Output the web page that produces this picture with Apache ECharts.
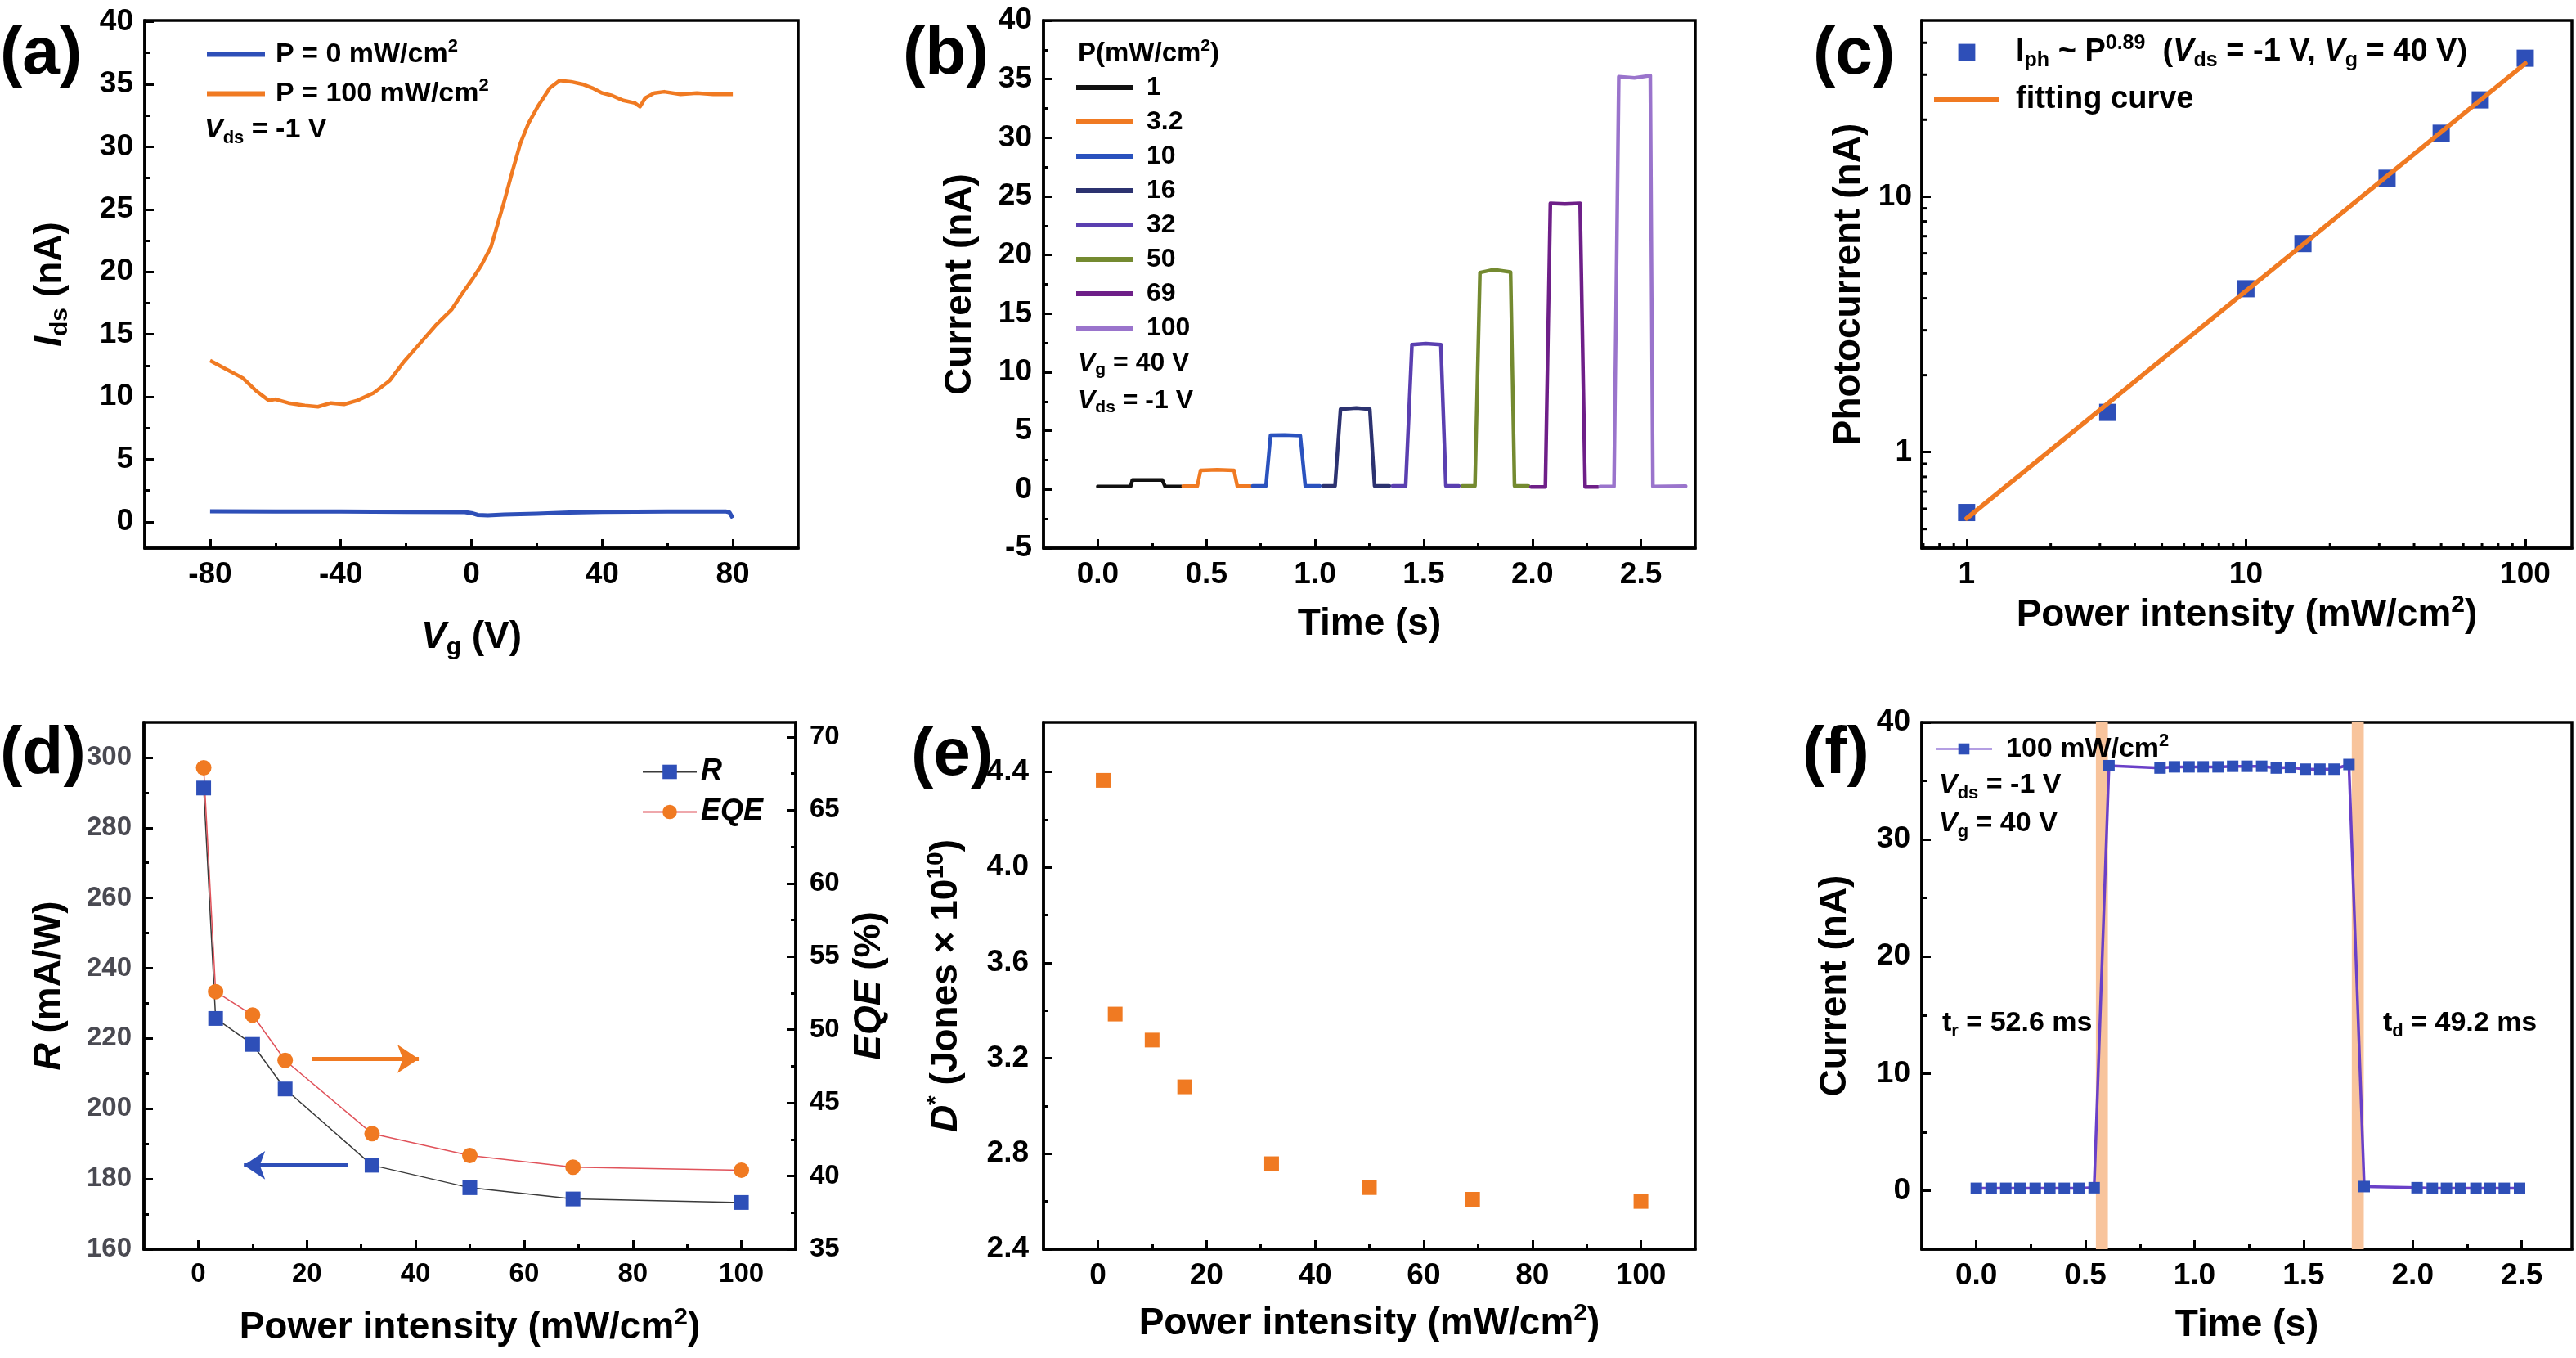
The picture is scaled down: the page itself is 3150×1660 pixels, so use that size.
<!DOCTYPE html>
<html>
<head>
<meta charset="utf-8">
<script src="https://cdn.jsdelivr.net/npm/echarts@6.0.0/dist/echarts.min.js"></script>
<style>
html,body{margin:0;padding:0;background:#fff;}
#chart{width:3150px;height:1660px;}
</style>
</head>
<body>
<div id="chart"></div>
<script>
// ---------------- DATA ----------------
// (a) transfer curves
const aVg0 = [-80,-60,-40,-20,-2,0,2,5,10,20,30,40,60,78,79,80];
const aI0  = [0.85,0.83,0.82,0.80,0.78,0.70,0.55,0.52,0.58,0.65,0.75,0.80,0.82,0.82,0.75,0.30];
const aVg100 = [-80,-75,-70,-66,-62,-60,-56,-51,-47,-43,-39,-35,-30,-25,-21,-16,-11,-6,-3,0,3,6,8,10,12.5,15,17.5,20.5,24,27,30.5,34,37,40,43,46.5,50,51.6,53.2,56,59,64,69,74,80];
const aI100  = [12.9,12.2,11.5,10.5,9.7,9.8,9.5,9.3,9.2,9.5,9.4,9.7,10.3,11.3,12.7,14.2,15.7,17.0,18.2,19.3,20.5,22.0,23.8,25.6,28.0,30.3,31.9,33.3,34.7,35.3,35.2,35.0,34.7,34.3,34.1,33.7,33.5,33.2,33.9,34.3,34.4,34.2,34.3,34.2,34.2];

// (b) transient response per power
const bPowers = ['1','3.2','10','16','32','50','69','100'];
const bColors = ['#111111','#f07a22','#2a52be','#2c3270','#5a3fb0','#748a30','#6e1f88','#9a74cc'];
const bTime = [
  [0.000,0.151,0.159,0.297,0.310,0.385],
  [0.393,0.458,0.473,0.550,0.627,0.642,0.703],
  [0.713,0.774,0.795,0.860,0.932,0.955,1.022],
  [1.037,1.092,1.117,1.190,1.252,1.274,1.342],
  [1.357,1.417,1.446,1.510,1.579,1.602,1.662],
  [1.677,1.736,1.759,1.820,1.900,1.918,1.982],
  [1.994,2.060,2.083,2.150,2.220,2.243,2.302],
  [2.312,2.376,2.398,2.470,2.543,2.555,2.706]
];
const bCurr = [
  [0.25,0.25,0.80,0.80,0.25,0.25],
  [0.28,0.28,1.62,1.68,1.62,0.28,0.28],
  [0.30,0.30,4.62,4.64,4.60,0.30,0.30],
  [0.30,0.30,6.85,6.95,6.85,0.30,0.30],
  [0.30,0.30,12.35,12.45,12.35,0.30,0.30],
  [0.30,0.30,18.50,18.75,18.55,0.30,0.30],
  [0.22,0.22,24.40,24.35,24.40,0.22,0.22],
  [0.25,0.25,35.20,35.10,35.30,0.25,0.28]
];

// (c) photocurrent vs power (log-log)
const cP = [1,3.2,10,16,32,50,69,100];
const cI = [0.58,1.43,4.36,6.55,11.8,17.7,23.9,34.8];
const cFitP = [1,100];
const cFitI = [0.55,33.2];
const cMinorX = [0.7,0.8,0.9,2,3,4,5,6,7,8,9,20,30,40,50,60,70,80,90];
const cMinorY = [0.5,0.6,0.7,0.8,0.9,2,3,4,5,6,7,8,9,20,30,40];

// (d) responsivity & EQE, (e) detectivity
const dP = [1,3.2,10,16,32,50,69,100];
const dR = [291.3,225.7,218.3,205.6,183.9,177.5,174.3,173.3];
const dEQE = [67.9,52.6,51.0,47.9,42.9,41.4,40.6,40.4];
const eD = [4.364,3.385,3.276,3.080,2.758,2.658,2.609,2.600];

// (f) single cycle response
const fT = [0.000,0.068,0.135,0.200,0.270,0.337,0.403,0.470,0.540,0.608,0.842,0.908,0.975,1.040,1.108,1.175,1.240,1.308,1.375,1.440,1.508,1.575,1.640,1.708,1.778,2.020,2.090,2.155,2.220,2.290,2.355,2.420,2.490];
const fI = [0.20,0.20,0.20,0.20,0.20,0.20,0.20,0.20,0.25,36.3,36.1,36.2,36.2,36.2,36.2,36.25,36.25,36.25,36.1,36.15,36.0,36.0,36.0,36.4,0.35,0.25,0.20,0.20,0.20,0.20,0.20,0.20,0.20];
const fBands = [[0.548,0.603],[1.721,1.776]];

// tick values
const aXMaj = [-80,-40,0,40,80], aXMin = [-60,-20,20,60];
const aYMaj = [0,5,10,15,20,25,30,35,40], aYMin = [2.5,7.5,12.5,17.5,22.5,27.5,32.5,37.5];
const tXMaj = [0,0.5,1,1.5,2,2.5], tXMin = [0.25,0.75,1.25,1.75,2.25];
const bYMaj = [-5,0,5,10,15,20,25,30,35,40], bYMin = [-2.5,2.5,7.5,12.5,17.5,22.5,27.5,32.5,37.5];
const pXMaj = [0,20,40,60,80,100], pXMin = [10,30,50,70,90];
const dYLMaj = [160,180,200,220,240,260,280,300], dYLMin = [170,190,210,230,250,270,290];
const dYRMaj = [35,40,45,50,55,60,65,70], dYRMin = [37.5,42.5,47.5,52.5,57.5,62.5,67.5];
const eYMaj = [2.4,2.8,3.2,3.6,4.0,4.4], eYMin = [2.6,3.0,3.4,3.8,4.2];
const fYMaj = [0,10,20,30,40], fYMin = [5,15,25,35];

// ---------------- STYLE HELPERS ----------------
const FONT = "'Liberation Sans', Arial, Helvetica, sans-serif";
const BLUE = '#2e4fb8', ORANGE = '#f07a22';
const zip = (a,b) => a.map((v,i)=>[v,b[i]]);

function rich(F){
  const s = Math.round(F*0.65);
  return {
    it:{fontSize:F, fontStyle:'italic', fontWeight:'bold', fontFamily:FONT, lineHeight:Math.round(F*1.2)},
    sb:{fontSize:s, fontWeight:'bold', fontFamily:FONT, verticalAlign:'bottom', lineHeight:s},
    sp:{fontSize:s, fontWeight:'bold', fontFamily:FONT, verticalAlign:'top', lineHeight:s}
  };
}

const xAxes = [], yAxes = [];
function linAxes(list, pos, grid, min, max, majors, minors, o){
  const nfs = o.nfs || 46;
  list.push({
    type:'value', gridIndex:grid, min:min, max:max, position:pos,
    axisLine:{show:true, onZero:false, lineStyle:{color:'#000', width:3.5}},
    axisTick:{show:true, inside:true, length:11, customValues:majors, lineStyle:{color:'#000', width:3}},
    minorTick:{show:false}, splitLine:{show:false},
    axisLabel:{show:true, customValues:majors, margin:o.margin||14, fontSize:o.fs||37, fontWeight:'bold',
      fontFamily:FONT, color:o.color||'#000', formatter:o.fmt||(v=>String(v)), hideOverlap:false},
    name:o.name, nameLocation:'middle', nameGap:o.gap, nameMoveOverlap:false,
    nameTextStyle:{fontSize:nfs, fontWeight:'bold', fontFamily:FONT, color:'#000', lineHeight:Math.round(nfs*1.2), rich:rich(nfs)}
  });
  const idx = list.length-1;
  list.push({
    type:'value', gridIndex:grid, min:min, max:max, position:pos, silent:true,
    axisLine:{show:false, onZero:false}, axisLabel:{show:false}, splitLine:{show:false}, minorTick:{show:false},
    axisTick:{show:true, inside:true, length:6, customValues:minors, lineStyle:{color:'#000', width:3}}
  });
  return idx;
}
function logAxis(list, pos, grid, min, max, o){
  const nfs = 46;
  list.push({
    type:'log', logBase:10, gridIndex:grid, min:min, max:max, position:pos,
    axisLine:{show:true, onZero:false, lineStyle:{color:'#000', width:3.5}},
    axisTick:{show:true, inside:true, length:11, lineStyle:{color:'#000', width:3}},
    minorTick:{show:false}, splitLine:{show:false},
    axisLabel:{margin:o.margin||14, fontSize:37, fontWeight:'bold', fontFamily:FONT, color:'#000',
      showMinLabel:false, showMaxLabel:false,
      formatter:v=>{const r=Math.log10(v); return Math.abs(r-Math.round(r))<1e-6 ? String(Math.round(v)) : '';}},
    name:o.name, nameLocation:'middle', nameGap:o.gap, nameMoveOverlap:false,
    nameTextStyle:{fontSize:nfs, fontWeight:'bold', fontFamily:FONT, color:'#000', lineHeight:Math.round(nfs*1.2), rich:rich(nfs)}
  });
  return list.length-1;
}

// ---------------- GRIDS ----------------
const gridBox = [
  {left:177, top:25, width:799, height:645},
  {left:1276, top:25, width:797, height:645},
  {left:2350, top:25, width:795, height:645},
  {left:176, top:883, width:797, height:644},
  {left:1276, top:883, width:797, height:644},
  {left:2350, top:883, width:795, height:644}
];
const grids = gridBox.map(g => Object.assign({show:true, borderColor:'#000', borderWidth:3.5, backgroundColor:'transparent', containLabel:false, outerBoundsMode:'none'}, g));

// ---------------- AXES ----------------
const xA = linAxes(xAxes,'bottom',0,-100,100,aXMaj,aXMin,{name:'{it|V}{sb|g} (V)', gap:82});
const yA = linAxes(yAxes,'left',0,-2.1,40.1,aYMaj,aYMin,{name:'{it|I}{sb|ds} (nA)', gap:88});
const xB = linAxes(xAxes,'bottom',1,-0.25,2.75,tXMaj,tXMin,{name:'Time (s)', gap:66, fmt:v=>v.toFixed(1)});
const yB = linAxes(yAxes,'left',1,-5,40,bYMaj,bYMin,{name:'Current (nA)', gap:74});
const xC = logAxis(xAxes,'bottom',2,0.691,146.9,{name:'Power intensity (mW/cm{sp|2})', gap:55});
const yC = logAxis(yAxes,'left',2,0.421,48.9,{name:'Photocurrent (nA)', gap:61, margin:12});
const xD = linAxes(xAxes,'bottom',3,-10,110,pXMaj,pXMin,{name:'Power intensity (mW/cm{sp|2})', gap:69, fs:33});
const yDL = linAxes(yAxes,'left',3,160,310,dYLMaj,dYLMin,{name:'{it|R} (mA/W)', gap:88, fs:33, color:'#4a4a52', margin:15});
const yDR = linAxes(yAxes,'right',3,35,71,dYRMaj,dYRMin,{name:'{it|EQE} (%)', gap:63, fs:33, margin:17});
const xE = linAxes(xAxes,'bottom',4,-10,110,pXMaj,pXMin,{name:'Power intensity (mW/cm{sp|2})', gap:64});
const yE = linAxes(yAxes,'left',4,2.4,4.607,eYMaj,eYMin,{name:'{it|D}{sp|*} (Jones × 10{sp|10})', gap:91, margin:18, fmt:v=>v.toFixed(1)});
const xF = linAxes(xAxes,'bottom',5,-0.25,2.73,tXMaj,tXMin,{name:'Time (s)', gap:66, fmt:v=>v.toFixed(1)});
const yF = linAxes(yAxes,'left',5,-5,40,fYMaj,fYMin,{name:'Current (nA)', gap:78});

// ---------------- SERIES ----------------
const series = [];
series.push({name:'P0', type:'line', xAxisIndex:xA, yAxisIndex:yA, data:zip(aVg0,aI0), symbol:'none',
  lineStyle:{color:BLUE, width:5, join:'round'}, itemStyle:{color:BLUE}});
series.push({name:'P100', type:'line', xAxisIndex:xA, yAxisIndex:yA, data:zip(aVg100,aI100), symbol:'none',
  lineStyle:{color:ORANGE, width:4.5, join:'round'}, itemStyle:{color:ORANGE}});

bPowers.forEach((p,k) => {
  series.push({name:p, type:'line', xAxisIndex:xB, yAxisIndex:yB, data:zip(bTime[k],bCurr[k]), symbol:'none',
    lineStyle:{color:bColors[k], width:4.5, join:'round', cap:'round'}, itemStyle:{color:bColors[k]}});
});

series.push({name:'Iph', type:'line', xAxisIndex:xC, yAxisIndex:yC, data:zip(cP,cI), symbol:'rect', symbolSize:21,
  lineStyle:{width:0, opacity:0}, itemStyle:{color:BLUE, opacity:1}, z:2});
series.push({name:'fit', type:'line', xAxisIndex:xC, yAxisIndex:yC, data:zip(cFitP,cFitI), symbol:'none',
  lineStyle:{color:ORANGE, width:5.5, cap:'round'}, itemStyle:{color:ORANGE}, z:3});
series.push({type:'custom', xAxisIndex:xC, yAxisIndex:yC, silent:true, clip:false, z:5, data:cMinorX.map(v=>[v,1]),
  renderItem:(params, api) => { const cs = params.coordSys; const x = api.coord([api.value(0), api.value(1)])[0]; const yb = cs.y + cs.height;
    return {type:'line', shape:{x1:x, y1:yb, x2:x, y2:yb-6}, style:{stroke:'#000', lineWidth:3}}; }});
series.push({type:'custom', xAxisIndex:xC, yAxisIndex:yC, silent:true, clip:false, z:5, data:cMinorY.map(v=>[1,v]),
  renderItem:(params, api) => { const cs = params.coordSys; const y = api.coord([api.value(0), api.value(1)])[1];
    return {type:'line', shape:{x1:cs.x, y1:y, x2:cs.x+6, y2:y}, style:{stroke:'#000', lineWidth:3}}; }});

series.push({name:'R', type:'line', xAxisIndex:xD, yAxisIndex:yDL, data:zip(dP,dR), symbol:'rect', symbolSize:18,
  lineStyle:{color:'#3a3a3a', width:1.5}, itemStyle:{color:BLUE},
  markLine:{silent:true, symbol:['none','arrow'], symbolSize:26, label:{show:false},
    lineStyle:{color:BLUE, width:5, type:'solid'}, itemStyle:{color:BLUE}, emphasis:{disabled:true},
    data:[[{coord:[27.6,183.9]},{coord:[8.4,183.9]}]]}});
series.push({name:'EQE', type:'line', xAxisIndex:xD, yAxisIndex:yDR, data:zip(dP,dEQE), symbol:'circle', symbolSize:19,
  lineStyle:{color:'#e0525a', width:1.5}, itemStyle:{color:ORANGE},
  markLine:{silent:true, symbol:['none','arrow'], symbolSize:26, label:{show:false},
    lineStyle:{color:ORANGE, width:5, type:'solid'}, itemStyle:{color:ORANGE}, emphasis:{disabled:true},
    data:[[{coord:[21,48]},{coord:[40.6,48]}]]}});

series.push({name:'Dstar', type:'scatter', xAxisIndex:xE, yAxisIndex:yE, data:zip(dP,eD), symbol:'rect', symbolSize:18,
  itemStyle:{color:ORANGE, opacity:1}});

series.push({name:'F100', type:'line', xAxisIndex:xF, yAxisIndex:yF, data:zip(fT,fI), symbol:'rect', symbolSize:14,
  lineStyle:{color:'#6a40c8', width:3.5}, itemStyle:{color:BLUE},
  markArea:{silent:true, itemStyle:{color:'#f8c49c', opacity:1},
    data:fBands.map(b=>[{xAxis:b[0]},{xAxis:b[1]}])}});

// ---------------- LEGENDS ----------------
const LEG = {
  P0:'P = 0 mW/cm{sp|2}', P100:'P = 100 mW/cm{sp|2}',
  Iph:'I{sb|ph} ~ P{sp|0.89}  ({it|V}{sb|ds} = -1 V, {it|V}{sb|g} = 40 V)', fit:'fitting curve',
  R:'{it|R}', EQE:'{it|EQE}', F100:'100 mW/cm{sp|2}'
};
function legTS(F, padL, italic){
  return {fontSize:F, fontWeight:'bold', fontFamily:FONT, color:'#000', fontStyle:italic?'italic':'normal',
    lineHeight:Math.round(F*1.2), padding:[0,0,0,padL], rich:rich(F)};
}
const legFmt = n => (LEG[n] !== undefined ? LEG[n] : n);
const legends = [
  {left:253, top:46, orient:'vertical', padding:0, itemWidth:71, itemHeight:6, itemGap:7, selectedMode:false,
   icon:'path://M0,0H71V6H0Z', data:['P0','P100'], formatter:legFmt, textStyle:legTS(34,8)},
  {left:1316, top:88, orient:'vertical', padding:0, itemWidth:69, itemHeight:6, itemGap:4, selectedMode:false,
   icon:'path://M0,0H69V6H0Z', data:bPowers, formatter:legFmt, textStyle:legTS(32,12)},
  {left:2365, top:41, orient:'vertical', padding:0, itemWidth:80, itemHeight:26, itemGap:12, selectedMode:false, symbolKeepAspect:true,
   data:[{name:'Iph'},{name:'fit', icon:'path://M0,0H80V6H0Z'}], formatter:legFmt, textStyle:legTS(38,15)},
  {left:785, top:922, orient:'vertical', padding:0, itemWidth:66, itemHeight:22, itemGap:6, selectedMode:false,
   data:['R','EQE'], formatter:legFmt, textStyle:legTS(36,0)},
  {left:2366, top:895, orient:'vertical', padding:0, itemWidth:69, itemHeight:17, itemGap:6, selectedMode:false,
   data:['F100'], formatter:legFmt, textStyle:legTS(34,12)}
];

// ---------------- TEXT ANNOTATIONS ----------------
function T(x, y, text, fs){
  return {type:'text', x:x, y:y, silent:true, z:100,
    style:{text:text, fontSize:fs, fontWeight:'bold', fontFamily:FONT, fill:'#000', align:'left',
      verticalAlign:'middle', lineHeight:Math.round(fs*1.2), rich:rich(fs)}};
}
const graphics = [
  T(0,67,'(a)',82), T(1104,67,'(b)',82), T(2217,67,'(c)',82),
  T(0,922,'(d)',82), T(1114,924,'(e)',82), T(2204,922,'(f)',82),
  T(250,159,'{it|V}{sb|ds} = -1 V',34),
  T(1318,66,'P(mW/cm{sp|2})',33),
  T(1318,444,'{it|V}{sb|g} = 40 V',32),
  T(1318,490,'{it|V}{sb|ds} = -1 V',32),
  T(2371,960,'{it|V}{sb|ds} = -1 V',34),
  T(2371,1007,'{it|V}{sb|g} = 40 V',34),
  T(2375,1251,'t{sb|r} = 52.6 ms',34),
  T(2914,1251,'t{sb|d} = 49.2 ms',34)
];

const chart = echarts.init(document.getElementById('chart'), null, {renderer:'canvas', width:3150, height:1660});
chart.setOption({
  backgroundColor:'#ffffff',
  animation:false,
  textStyle:{fontFamily:FONT},
  grid:grids, xAxis:xAxes, yAxis:yAxes,
  legend:legends, series:series, graphic:graphics
});
</script>
</body>
</html>
